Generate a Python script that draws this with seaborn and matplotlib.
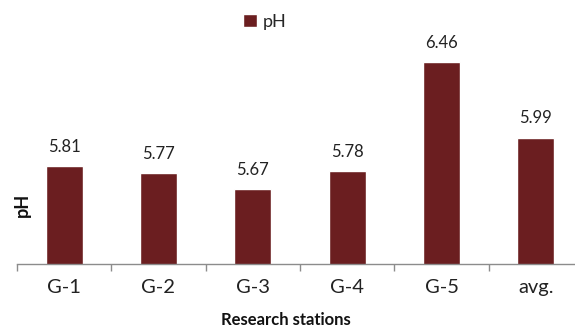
import numpy as np
import pandas as pd
import seaborn as sns
import matplotlib.pyplot as plt

stations = ["G-1", "G-2", "G-3", "G-4", "G-5", "avg."]
ph_values = [5.81, 5.77, 5.67, 5.78, 6.46, 5.99]

df = pd.DataFrame({"station": stations, "pH": ph_values})

sns.set_style("white")
plt.rcParams["font.family"] = ["Lato", "DejaVu Sans"]

fig = plt.figure(figsize=(5.75, 3.29), dpi=100)
# axes spans slightly past the right edge like the original
ax = fig.add_axes([17 / 575, (329 - 264) / 329, (583 - 17) / 575, (264 - 8) / 329])

bar_color = "#6B1E20"
sns.barplot(data=df, x="station", y="pH", color=bar_color, width=0.39,
            saturation=1, ax=ax, label="pH")

ax.set_ylim(5.2, 6.8)
ax.set_xlim(-0.5, len(stations) - 0.5)

for c in ax.containers:
    ax.bar_label(c, labels=[f"{v:.2f}" for v in ph_values], padding=8,
                 fontsize=12, color="#222222")

# axis styling
for s in ["top", "right", "left"]:
    ax.spines[s].set_visible(False)
ax.spines["bottom"].set_color("#8c8c8c")
ax.spines["bottom"].set_linewidth(1)
ax.set_yticks([])
ax.set_xticks(np.arange(len(stations)))
ax.set_xticklabels(stations, fontsize=14.5, color="#222222")
ax.set_xticks(np.arange(len(stations) + 1) - 0.5, minor=True)
ax.tick_params(axis="x", which="major", length=0, pad=11)
ax.tick_params(axis="x", which="minor", length=5, color="#8c8c8c", width=1,
               direction="out", bottom=True)

ax.set_xlabel("")
ax.set_ylabel("")
fig.text(286 / 575, 1 - 320 / 329, "Research stations", ha="center", va="center",
         fontsize=12, fontweight="bold", color="#111111")
fig.text(22 / 575, 1 - 205 / 329, "pH", ha="center", va="center", rotation=90,
         fontsize=13, fontweight="bold", color="#111111")

handles, labels = ax.get_legend_handles_labels()
if ax.get_legend() is not None:
    ax.get_legend().remove()
fig.legend(handles[:1], ["pH"], loc="center", bbox_to_anchor=(265 / 575, 1 - 22 / 329),
           frameon=False, fontsize=13, handlelength=0.75, handleheight=0.75,
           handletextpad=0.35)

fig.savefig("out.png", dpi=100)
